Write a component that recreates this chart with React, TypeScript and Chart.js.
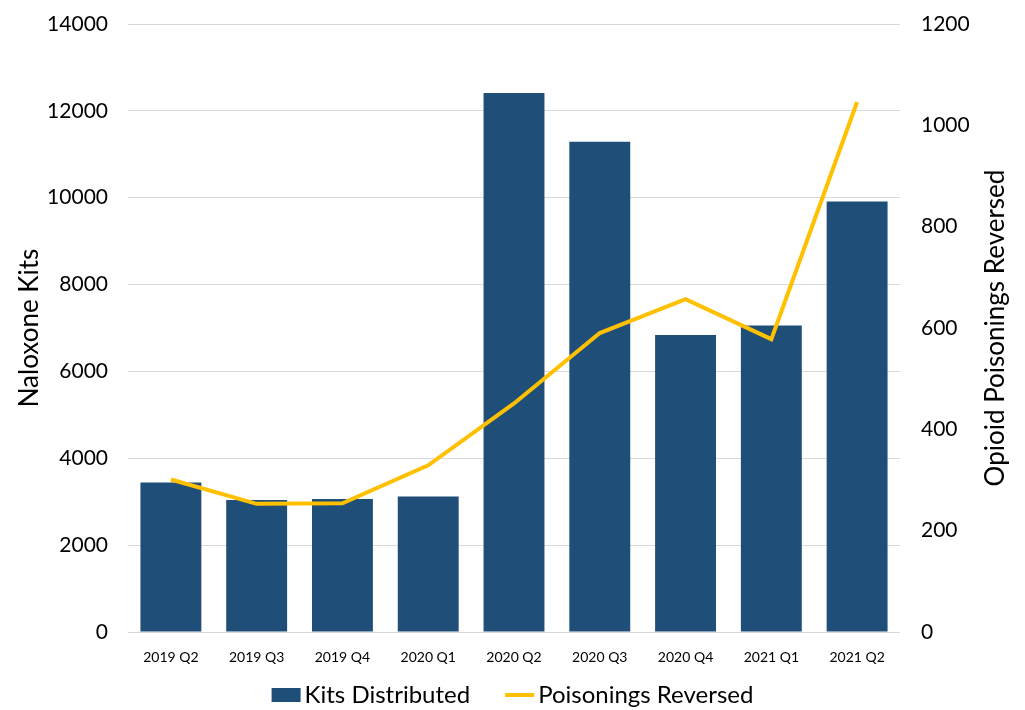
import React, { useEffect, useRef } from 'react';
import { Chart, registerables } from 'chart.js';

Chart.register(...registerables);

const categories = ['2019 Q2', '2019 Q3', '2019 Q4', '2020 Q1', '2020 Q2', '2020 Q3', '2020 Q4', '2021 Q1', '2021 Q2'];
const kitsDistributed = [3440, 3040, 3060, 3120, 12410, 11290, 6840, 7060, 9910];
const poisoningsReversed = [301, 253, 254, 329, 451, 590, 657, 578, 1046];

const leftTitle = 'Naloxone Kits';
const rightTitle = 'Opioid Poisonings Reversed';
const barLabel = 'Kits Distributed';
const lineLabel = 'Poisonings Reversed';

const BAR = '#1F4E79';
const LINE = '#FFC000';
const FONT = 'Lato, "Open Sans", sans-serif';

const extrasPlugin = {
  id: 'extras',
  afterDraw(chart: any) {
    const ctx = chart.ctx as CanvasRenderingContext2D;
    const area = chart.chartArea;
    ctx.save();
    // right axis title, reading bottom to top
    ctx.font = `26px ${FONT}`;
    ctx.fillStyle = '#000';
    ctx.textAlign = 'center';
    ctx.textBaseline = 'middle';
    ctx.translate(996, (area.top + area.bottom) / 2);
    ctx.rotate(-Math.PI / 2);
    ctx.fillText(rightTitle, 0, 0);
    ctx.restore();

    // legend
    ctx.save();
    ctx.font = `24px ${FONT}`;
    ctx.textBaseline = 'middle';
    ctx.textAlign = 'left';
    const symW = 29;
    const gapSym = 4;
    const gapItem = 35;
    const w1 = ctx.measureText(barLabel).width;
    const w2 = ctx.measureText(lineLabel).width;
    const total = symW + gapSym + w1 + gapItem + symW + gapSym + w2;
    const cy = 695;
    let x = chart.width / 2 - total / 2;
    ctx.fillStyle = BAR;
    ctx.fillRect(x, cy - 7, symW, 14);
    x += symW + gapSym;
    ctx.fillStyle = '#000';
    ctx.fillText(barLabel, x, cy);
    x += w1 + gapItem;
    ctx.strokeStyle = LINE;
    ctx.lineWidth = 4;
    ctx.beginPath();
    ctx.moveTo(x, cy);
    ctx.lineTo(x + symW, cy);
    ctx.stroke();
    x += symW + gapSym;
    ctx.fillStyle = '#000';
    ctx.fillText(lineLabel, x, cy);
    ctx.restore();
  },
};

export default function App() {
  const ref = useRef<HTMLCanvasElement | null>(null);

  useEffect(() => {
    if (!ref.current) return;
    const chart = new Chart(ref.current, {
      type: 'bar',
      data: {
        labels: categories,
        datasets: [
          {
            type: 'bar',
            label: barLabel,
            data: kitsDistributed,
            backgroundColor: BAR,
            yAxisID: 'y',
            order: 1,
            barPercentage: 0.71,
            categoryPercentage: 1,
          },
          {
            type: 'line',
            label: lineLabel,
            data: poisoningsReversed,
            borderColor: LINE,
            backgroundColor: LINE,
            borderWidth: 4,
            pointRadius: 0,
            tension: 0,
            yAxisID: 'y1',
            order: 0,
          },
        ],
      },
      options: {
        animation: false,
        responsive: false,
        devicePixelRatio: 1,
        layout: { padding: { top: 24, left: 0, right: 0, bottom: 38 } },
        plugins: {
          tooltip: { enabled: false },
          legend: { display: false },
        },
        scales: {
          x: {
            grid: { display: false },
            border: { display: false },
            ticks: {
              color: '#000',
              font: { family: FONT, size: 14 },
              padding: 9,
              maxRotation: 0,
            },
            afterFit: (s: any) => {
              s.height = 40;
            },
          },
          y: {
            position: 'left',
            min: 0,
            max: 14000,
            ticks: {
              stepSize: 2000,
              color: '#000',
              font: { family: FONT, size: 21 },
              padding: 20,
              callback: (v: any) => String(v),
            },
            grid: { color: '#D9D9D9', lineWidth: 1, drawTicks: false },
            border: { display: false },
            title: {
              display: true,
              text: leftTitle,
              color: '#000',
              font: { family: FONT, size: 26 },
              padding: { top: 14, bottom: 0 },
            },
            afterFit: (s: any) => {
              s.width = 128;
              s.paddingTop = 0;
              s.paddingBottom = 0;
            },
          },
          y1: {
            position: 'right',
            min: 0,
            max: 1200,
            ticks: {
              stepSize: 200,
              color: '#000',
              font: { family: FONT, size: 21 },
              padding: 21,
              callback: (v: any) => String(v),
            },
            grid: { display: false, drawTicks: false },
            border: { display: false },
            afterFit: (s: any) => {
              s.width = 125;
              s.paddingTop = 0;
              s.paddingBottom = 0;
            },
          },
        },
      },
      plugins: [extrasPlugin],
    });
    return () => chart.destroy();
  }, []);

  return (
    <div style={{ position: 'absolute', left: 0, top: 0, width: 1025, height: 710, background: '#fff' }}>
      <canvas ref={ref} width={1025} height={710} />
    </div>
  );
}
